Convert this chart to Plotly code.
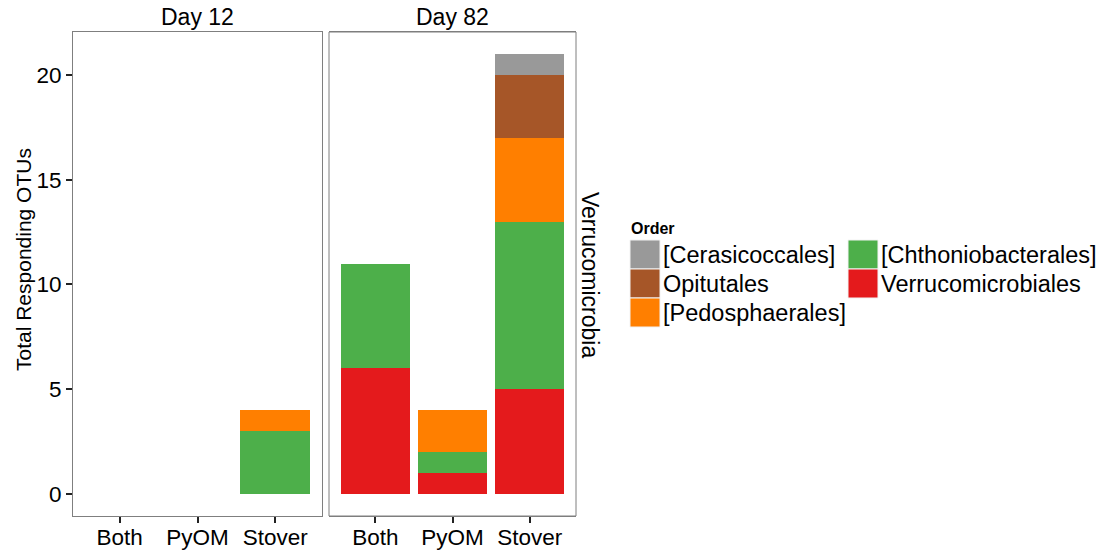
import plotly.graph_objects as go

# Treatment categories and facets
treatments = ["Both", "PyOM", "Stover"]
days = ["Day 12", "Day 82"]
phylum = "Verrucomicrobia"
y_title = "Total Responding OTUs"

# Orders, drawn from the bottom of each stack upward
orders = ["Verrucomicrobiales", "[Chthoniobacterales]", "[Pedosphaerales]",
          "Opitutales", "[Cerasicoccales]"]
colors = ["#E41A1C", "#4DAF4A", "#FF7F00", "#A65628", "#999999"]

# Responding OTU counts per order, per treatment (Both, PyOM, Stover)
day12 = {
    "Verrucomicrobiales": [0, 0, 0],
    "[Chthoniobacterales]": [0, 0, 3],
    "[Pedosphaerales]": [0, 0, 1],
    "Opitutales": [0, 0, 0],
    "[Cerasicoccales]": [0, 0, 0],
}
day82 = {
    "Verrucomicrobiales": [6, 1, 5],
    "[Chthoniobacterales]": [5, 1, 8],
    "[Pedosphaerales]": [0, 2, 4],
    "Opitutales": [0, 0, 3],
    "[Cerasicoccales]": [0, 0, 1],
}

# Legend layout (column-major, as in ggplot)
legend_cols = [["[Cerasicoccales]", "Opitutales", "[Pedosphaerales]"],
               ["[Chthoniobacterales]", "Verrucomicrobiales"]]

W, H = 1104, 554
ML, MR, MT, MB = 73, 528, 32, 38
PW, PH = W - ML - MR, H - MT - MB
FONT = "Liberation Sans, Arial, Helvetica, sans-serif"


def px(x):
    return (x - ML) / PW


def py(y):
    return 1 - (y - MT) / PH


fig = go.Figure()
for data, xa in [(day12, "x"), (day82, "x2")]:
    for name, col in zip(orders, colors):
        fig.add_trace(go.Bar(
            x=treatments, y=data[name], name=name, marker_color=col,
            marker_line_width=0, width=0.9, xaxis=xa, yaxis="y",
            showlegend=False, hoverinfo="skip"))

split = (322 - ML) / PW
split2 = (329 - ML) / PW
axis_common = dict(
    showline=True, mirror=True, linecolor="#7f7f7f", linewidth=1,
    showgrid=False, zeroline=False, ticks="outside", ticklen=6,
    tickcolor="#222222", tickwidth=1.5, automargin=False,
    tickfont=dict(family=FONT, size=22.5, color="black"),
)
fig.update_layout(
    width=W, height=H, margin=dict(l=ML, r=MR, t=MT, b=MB),
    barmode="stack", bargap=0.1,
    plot_bgcolor="white", paper_bgcolor="white",
    font=dict(family=FONT, color="black"),
    xaxis=dict(domain=[0, split], range=[0.4 - 1, 3.6 - 1],
               ticklabelstandoff=-5, **axis_common),
    xaxis2=dict(domain=[split2, 1], range=[0.4 - 1, 3.6 - 1],
                ticklabelstandoff=-5, **axis_common),
    yaxis=dict(range=[-1.05, 22.05], tickvals=[0, 5, 10, 15, 20],
               **axis_common),
)
fig.update_xaxes(type="category")

# Second panel border (shares the y axis scale)
fig.add_shape(type="rect", xref="x2 domain", yref="y domain",
              x0=0, x1=1, y0=0, y1=1, line=dict(color="#7f7f7f", width=1))

annotations = []
# Y axis title, centred over panels plus strip
annotations.append(dict(text=y_title, x=px(23), y=py(260), xref="paper",
                        yref="paper", showarrow=False, textangle=-90,
                        xanchor="center", yanchor="middle",
                        font=dict(family=FONT, size=21)))
# Facet strip titles
for d, (a, b) in zip(days, [(0, split), (split2, 1)]):
    annotations.append(dict(text=d, x=(a + b) / 2, y=py(17), xref="paper",
                            yref="paper", showarrow=False,
                            xanchor="center", yanchor="middle",
                            font=dict(family=FONT, size=23)))
annotations.append(dict(text=phylum, x=px(590), y=py(275), xref="paper",
                        yref="paper", showarrow=False, textangle=90,
                        xanchor="center", yanchor="middle",
                        font=dict(family=FONT, size=23)))

# Legend
annotations.append(dict(text="<b>Order</b>", x=px(629), y=py(228),
                        xref="paper", yref="paper", showarrow=False,
                        xanchor="left", yanchor="middle",
                        font=dict(family=FONT, size=16)))
shapes = []
col_x = [630, 848]
key_w, key_h, top = 30, 29, 240
for ci, names in enumerate(legend_cols):
    for ri, name in enumerate(names):
        col = colors[orders.index(name)]
        y0 = top + ri * key_h
        shapes.append(dict(type="rect", xref="paper", yref="paper",
                           x0=px(col_x[ci]), x1=px(col_x[ci] + key_w),
                           y0=py(y0), y1=py(y0 + key_h),
                           fillcolor=col, line=dict(color="#f2f2f2", width=1)))
        annotations.append(dict(text=name, x=px(col_x[ci] + key_w + 1),
                                y=py(y0 + key_h / 2), xref="paper",
                                yref="paper", showarrow=False,
                                xanchor="left", yanchor="middle",
                                font=dict(family=FONT, size=23.5)))

fig.update_layout(annotations=annotations)
for s in shapes:
    fig.add_shape(**s)

fig.write_html("out.html")
